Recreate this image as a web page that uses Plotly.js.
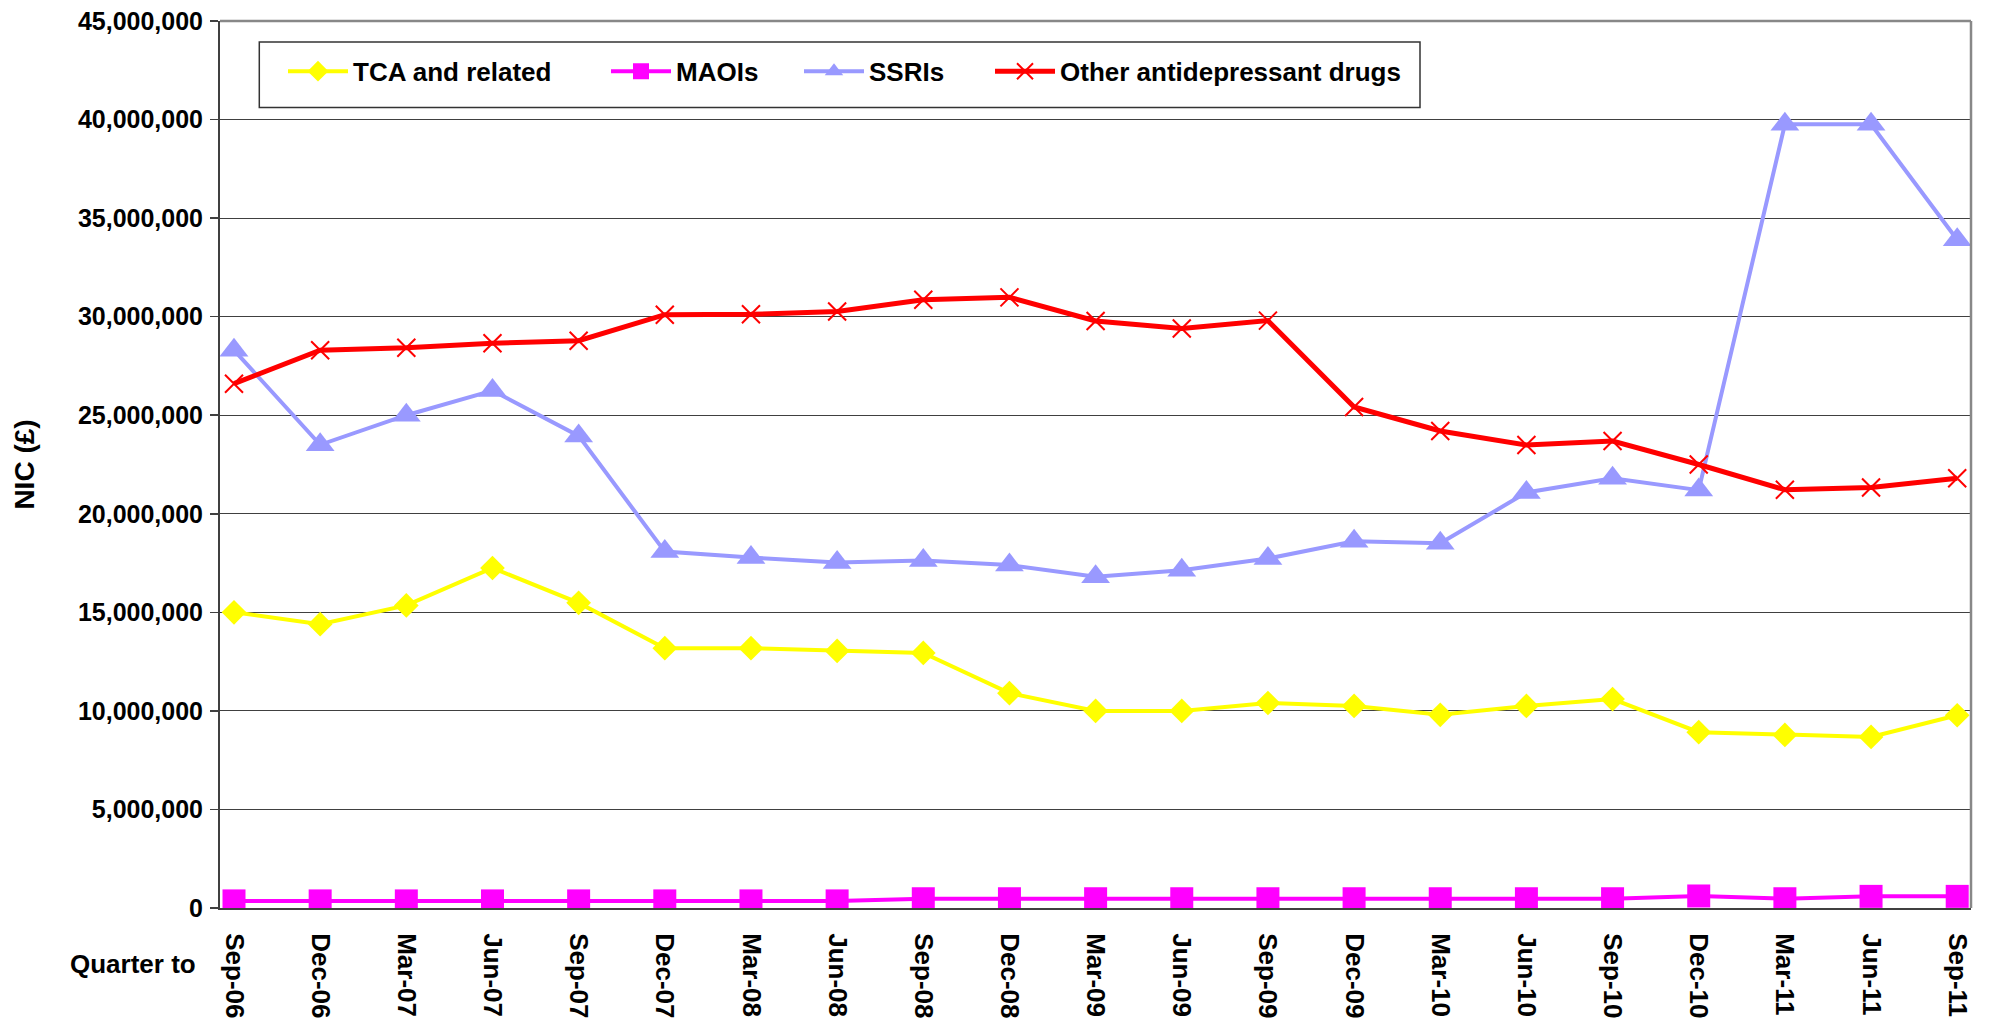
<!DOCTYPE html>
<html>
<head>
<meta charset="utf-8">
<script src="https://cdn.plot.ly/plotly-3.0.1.min.js"></script>
<style>html,body{margin:0;padding:0;background:#fff;}#chart{width:1989px;height:1034px;}</style>
</head>
<body>
<div id="chart"></div>
<script>
var quarters = ["Sep-06","Dec-06","Mar-07","Jun-07","Sep-07","Dec-07","Mar-08","Jun-08","Sep-08","Dec-08","Mar-09","Jun-09","Sep-09","Dec-09","Mar-10","Jun-10","Sep-10","Dec-10","Mar-11","Jun-11","Sep-11"];
var tcaRelated = [15000000,14400000,15350000,17250000,15480000,13180000,13180000,13040000,12940000,10900000,10000000,10000000,10400000,10250000,9800000,10250000,10600000,8920000,8780000,8680000,9780000];
var maois = [360000,360000,360000,360000,360000,360000,360000,360000,470000,470000,470000,470000,470000,470000,470000,470000,470000,610000,470000,590000,590000];
var ssris = [28300000,23500000,25000000,26250000,23950000,18080000,17780000,17530000,17630000,17400000,16800000,17140000,17730000,18600000,18500000,21080000,21800000,21200000,39760000,39760000,33900000];
var otherDrugs = [26600000,28300000,28420000,28650000,28780000,30100000,30120000,30260000,30860000,30980000,29780000,29400000,29800000,25420000,24200000,23490000,23690000,22500000,21220000,21330000,21800000];
var seriesNames = ["TCA and related","MAOIs","SSRIs","Other antidepressant drugs"];

var font = "'Liberation Sans', Arial, sans-serif";
var xRange = [-0.1625, 20.16];
var tickOffsets = quarters.map(function(q, i){ return i - 0.1625; });

var traces = [
  {x: quarters, y: tcaRelated, name: seriesNames[0], type: 'scatter', mode: 'lines+markers',
   line: {color: '#FFFF00', width: 4}, marker: {symbol: 'diamond', size: 19, color: '#FFFF00'}, legend: 'legend'},
  {x: quarters, y: maois, name: seriesNames[1], type: 'scatter', mode: 'lines+markers',
   line: {color: '#FF00FF', width: 4}, marker: {symbol: 'square', size: 23, color: '#FF00FF'}, legend: 'legend2'},
  {x: quarters, y: ssris, name: seriesNames[2], type: 'scatter', mode: 'lines+markers',
   line: {color: '#9999FF', width: 4}, marker: {symbol: 'triangle-up', size: 25, color: '#9999FF'}, legend: 'legend3'},
  {x: quarters, y: otherDrugs, name: seriesNames[3], type: 'scatter', mode: 'lines+markers',
   line: {color: '#FF0000', width: 5}, marker: {symbol: 'x-thin-open', size: 18, color: '#FF0000', line: {color: '#FF0000', width: 2}}, legend: 'legend4'}
];

function mkLegend(px) {
  return {xref: 'paper', yref: 'paper', x: (px - 220) / 1751, y: (907.7 - 71) / 887,
    xanchor: 'left', yanchor: 'middle', orientation: 'h', bgcolor: 'rgba(0,0,0,0)', borderwidth: 0,
    itemwidth: 60, font: {family: font, size: 26, color: '#000', weight: 700}};
}

var layout = {
  width: 1989, height: 1034,
  margin: {l: 220, r: 18, t: 21, b: 126, pad: 0, autoexpand: false},
  paper_bgcolor: '#fff', plot_bgcolor: '#fff',
  showlegend: true,
  legend: mkLegend(283), legend2: mkLegend(606), legend3: mkLegend(799), legend4: mkLegend(990),
  xaxis: {type: 'category', range: xRange, showgrid: false, zeroline: false,
    showline: true, linecolor: '#404040', linewidth: 2, ticks: '', tickangle: 90,
    ticklabelstandoff: 18,
    tickfont: {family: font, size: 26, color: '#000', weight: 700}},
  xaxis2: {type: 'linear', overlaying: 'x', anchor: 'y', side: 'bottom', range: xRange,
    tickmode: 'array', tickvals: tickOffsets, showticklabels: false,
    ticks: 'outside', ticklen: 10, tickwidth: 1.5, tickcolor: '#404040',
    showgrid: false, zeroline: false, showline: false},
  yaxis: {range: [0, 45000000], dtick: 5000000, tick0: 0, tickformat: ',d',
    showgrid: true, gridcolor: '#404040', gridwidth: 1, zeroline: false,
    showline: true, linecolor: '#404040', linewidth: 2,
    ticks: 'outside', ticklen: 8, tickwidth: 1.5, tickcolor: '#404040',
    ticklabelstandoff: 2,
    tickfont: {family: font, size: 25, color: '#000', weight: 700},
    title: {text: 'NIC (£)', standoff: 35, font: {family: font, size: 28, color: '#000', weight: 700}}},
  shapes: [
    {type: 'line', xref: 'paper', yref: 'paper', x0: 0, x1: 1, y0: 1, y1: 1, line: {color: '#888', width: 2.5}},
    {type: 'line', xref: 'paper', yref: 'paper', x0: 1, x1: 1, y0: 0, y1: 1, line: {color: '#888', width: 2.5}},
    {type: 'rect', xref: 'paper', yref: 'paper', x0: (259.3 - 220) / 1751, x1: (1420 - 220) / 1751,
      y0: (907.7 - 107.3) / 887, y1: (907.7 - 41.7) / 887, line: {color: '#333', width: 1.5}, fillcolor: '#fff', layer: 'above'}
  ],
  annotations: [
    {text: 'Quarter to', xref: 'paper', yref: 'paper', x: (133 - 220) / 1751, y: (907.7 - 964) / 887,
      xanchor: 'center', yanchor: 'middle', showarrow: false,
      font: {family: font, size: 26, color: '#000', weight: 700}}
  ]
};

Plotly.newPlot('chart', traces, layout, {displayModeBar: false, staticPlot: true});
</script>
</body>
</html>
